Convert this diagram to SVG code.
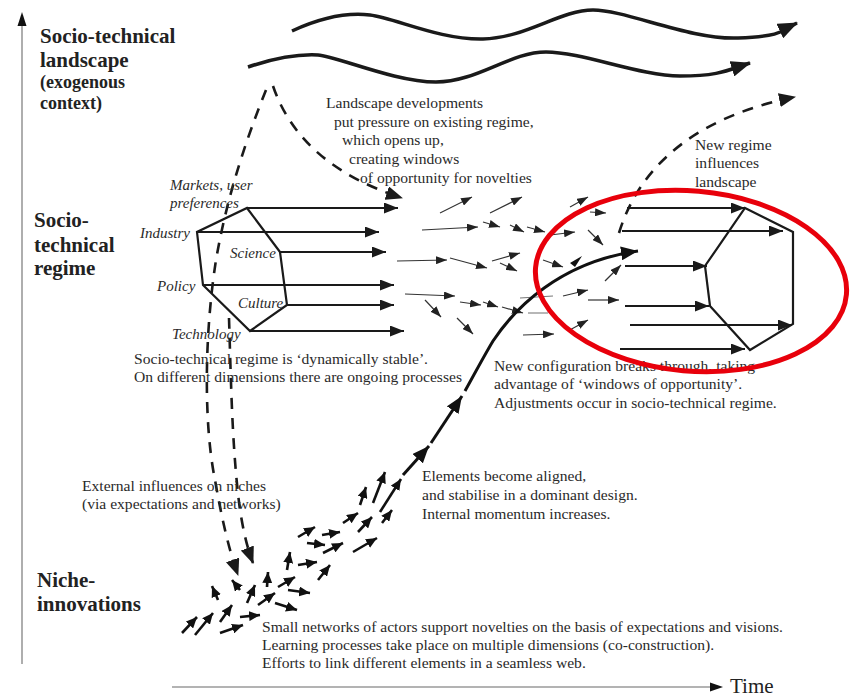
<svg xmlns="http://www.w3.org/2000/svg" width="850" height="699" viewBox="0 0 850 699">
<style>
.lbl{font-family:"Liberation Serif",serif;font-weight:bold;font-size:21px;fill:#222}
.lbs{font-family:"Liberation Serif",serif;font-weight:bold;font-size:18px;fill:#222}
.t{font-family:"Liberation Serif",serif;font-size:15.6px;fill:#2a2a2a}
.it{font-family:"Liberation Serif",serif;font-style:italic;font-size:15px;fill:#2a2a2a}
.wave{fill:none;stroke:#1a1a1a;stroke-width:3.5;marker-end:url(#hw)}
.dash{fill:none;stroke:#1a1a1a;stroke-width:2.6;stroke-dasharray:11 9;marker-end:url(#hd)}
.reg{stroke:#1a1a1a;stroke-width:2;marker-end:url(#hm)}
.sm{stroke:#333;stroke-width:1.2;marker-end:url(#hs)}
.ni{stroke:#111;stroke-width:2.6;marker-end:url(#hn)}
.sc{fill:none;stroke:#111;stroke-width:3;marker-end:url(#hl)}
.hex{fill:none;stroke:#1a1a1a;stroke-width:2.2;stroke-linejoin:miter}
.axis{stroke:#9a9a9a;stroke-width:1.6}
</style>
<defs>
<marker id="hw" markerUnits="userSpaceOnUse" markerWidth="20" markerHeight="16" refX="19" refY="8" orient="auto"><path d="M0,0 L20,8 L0,16 z" fill="#1a1a1a"/></marker>
<marker id="hd" markerUnits="userSpaceOnUse" markerWidth="17" markerHeight="14" refX="16" refY="7" orient="auto"><path d="M0,0 L17,7 L0,14 z" fill="#1a1a1a"/></marker>
<marker id="hm" markerUnits="userSpaceOnUse" markerWidth="14" markerHeight="11" refX="14" refY="5.5" orient="auto"><path d="M0,0 L14,5.5 L0,11 z" fill="#1a1a1a"/></marker>
<marker id="hs" markerUnits="userSpaceOnUse" markerWidth="11" markerHeight="8" refX="11" refY="4" orient="auto"><path d="M0,0 L11,4 L0,8 z" fill="#222"/></marker>
<marker id="hn" markerUnits="userSpaceOnUse" markerWidth="11" markerHeight="10" refX="11" refY="5" orient="auto"><path d="M0,0 L11,5 L0,10 z" fill="#111"/></marker>
<marker id="hl" markerUnits="userSpaceOnUse" markerWidth="17" markerHeight="14" refX="17" refY="7" orient="auto"><path d="M0,0 L17,7 L0,14 z" fill="#111"/></marker>
</defs>
<rect width="850" height="699" fill="#fff"/>

<!-- axes -->
<g id="axes">
<line class="axis" x1="22" y1="664" x2="22" y2="22"/>
<path d="M17.5,26 L22,12 L26.5,26 z" fill="#111"/>
<line class="axis" x1="172" y1="687" x2="712" y2="687"/>
<path d="M710,682.5 L723,687 L710,691.5 z" fill="#111"/>
<text x="730" y="693" font-family="Liberation Serif,serif" font-size="21" fill="#222">Time</text>
</g>

<!-- level labels -->
<g id="label-landscape">
<text class="lbl" x="40" y="43">Socio-technical</text>
<text class="lbl" x="40" y="67">landscape</text>
<text class="lbs" x="40" y="88">(exogenous</text>
<text class="lbs" x="40" y="109">context)</text>
</g>
<g id="label-regime">
<text class="lbl" x="34" y="227">Socio-</text>
<text class="lbl" x="34" y="252">technical</text>
<text class="lbl" x="34" y="275">regime</text>
</g>
<g id="label-niche">
<text class="lbl" x="37" y="587">Niche-</text>
<text class="lbl" x="37" y="611">innovations</text>
</g>

<!-- connectors -->
<g id="connectors">
<!-- landscape waves -->
<path class="wave" d="M292,31 C320,18 345,12 370,15 S440,40 483,39 S560,10 593,10 S690,40 738,38 S782,30 797,23"/>
<path class="wave" d="M248,67 C275,58 300,54 318,55 S395,82 436,82 S510,52 546,52 S640,76 680,76 S728,70 750,63"/>
<!-- dashed -->
<path class="dash" d="M273,86 Q300,165 402,198"/>
<path class="dash" d="M266,90 C250,130 228,190 216,260 C205,330 203,420 215,480 C222,520 229,550 238,575"/>
<path class="dash" d="M229,318 C231,380 232,450 240,510 C244,535 248,550 253,563"/>
<path class="dash" d="M619,233 C635,180 680,120 795,97"/>

<!-- regime arrows -->
<line class="reg" x1="247" y1="208" x2="398" y2="208"/>
<line class="reg" x1="197" y1="232" x2="379" y2="232"/>
<line class="reg" x1="280" y1="252" x2="386" y2="252"/>
<line class="reg" x1="203" y1="285" x2="394" y2="285"/>
<line class="reg" x1="287" y1="305" x2="394" y2="305"/>
<line class="reg" x1="250" y1="331" x2="404" y2="331"/>

<!-- middle field small arrows -->
<line class="sm" x1="440" y1="213" x2="472" y2="197"/>
<line class="sm" x1="490" y1="213" x2="522" y2="197"/>
<line class="sm" x1="422" y1="230" x2="478" y2="227"/>
<line class="sm" x1="483" y1="222" x2="500" y2="227"/>
<line class="sm" x1="510" y1="225" x2="524" y2="232"/>
<line class="sm" x1="527" y1="227" x2="545" y2="232"/>
<line class="sm" x1="550" y1="235" x2="575" y2="232"/>
<line class="sm" x1="570" y1="207" x2="588" y2="197"/>
<line class="sm" x1="590" y1="212" x2="606" y2="213"/>
<line class="sm" x1="588" y1="230" x2="603" y2="245"/>
<line class="sm" x1="397" y1="261" x2="447" y2="260"/>
<line class="sm" x1="450" y1="258" x2="487" y2="268"/>
<line class="sm" x1="492" y1="261" x2="520" y2="253"/>
<line class="sm" x1="500" y1="263" x2="517" y2="271"/>
<line class="sm" x1="543" y1="260" x2="563" y2="267"/>
<line class="sm" x1="605" y1="281" x2="621" y2="265"/>
<line class="sm" x1="405" y1="294" x2="455" y2="296"/>
<line class="sm" x1="460" y1="302" x2="481" y2="305"/>
<line class="sm" x1="483" y1="302" x2="498" y2="307"/>
<line class="sm" x1="502" y1="307" x2="523" y2="313"/>
<line class="sm" x1="425" y1="300" x2="441" y2="317"/>
<line class="sm" x1="457" y1="318" x2="473" y2="334"/>
<line class="sm" x1="523" y1="335" x2="554" y2="334"/>
<line class="sm" x1="563" y1="296" x2="588" y2="290"/>
<line class="sm" x1="588" y1="300" x2="619" y2="300"/>
<line class="sm" x1="568" y1="331" x2="588" y2="320"/>
<line stroke="#777" stroke-width="1.2" x1="520" y1="298" x2="553" y2="296"/>
<line stroke="#888" stroke-width="1.2" x1="528" y1="313" x2="548" y2="313"/>

<!-- new regime arrows -->
<line class="reg" x1="627" y1="208" x2="745" y2="208"/>
<line class="reg" x1="622" y1="231" x2="783" y2="231"/>
<line class="reg" x1="625" y1="266" x2="707" y2="266"/>
<line class="reg" x1="625" y1="306" x2="709" y2="306"/>
<line class="reg" x1="630" y1="325" x2="792" y2="325"/>
<line class="reg" x1="620" y1="349" x2="745" y2="349"/>

<!-- niche arrows -->
<line class="ni" x1="182" y1="633" x2="197" y2="617"/>
<line class="ni" x1="195" y1="635" x2="213" y2="613"/>
<line class="ni" x1="220" y1="622" x2="232" y2="605"/>
<line class="ni" x1="220" y1="633" x2="243" y2="625"/>
<line class="ni" x1="240" y1="617" x2="260" y2="615"/>
<line class="ni" x1="218" y1="600" x2="212" y2="586"/>
<line class="ni" x1="240" y1="590" x2="232" y2="580"/>
<line class="ni" x1="247" y1="603" x2="255" y2="585"/>
<line class="ni" x1="258" y1="605" x2="275" y2="593"/>
<line class="ni" x1="267" y1="587" x2="268" y2="572"/>
<line class="ni" x1="278" y1="587" x2="295" y2="577"/>
<line class="ni" x1="275" y1="603" x2="297" y2="610"/>
<line class="ni" x1="288" y1="590" x2="310" y2="593"/>
<line class="ni" x1="287" y1="570" x2="290" y2="552"/>
<line class="ni" x1="298" y1="565" x2="317" y2="562"/>
<line class="ni" x1="318" y1="580" x2="330" y2="565"/>
<line class="ni" x1="307" y1="543" x2="325" y2="545"/>
<line class="ni" x1="323" y1="553" x2="343" y2="543"/>
<line class="ni" x1="298" y1="537" x2="315" y2="527"/>
<line class="ni" x1="322" y1="535" x2="340" y2="532"/>
<line class="ni" x1="343" y1="523" x2="358" y2="513"/>
<line class="ni" x1="353" y1="552" x2="377" y2="538"/>
<line class="ni" x1="358" y1="532" x2="372" y2="517"/>
<line class="ni" x1="360" y1="505" x2="366" y2="487"/>
<line class="ni" x1="373" y1="503" x2="385" y2="472"/>
<line class="ni" x1="380" y1="512" x2="401" y2="479"/>
<line class="ni" x1="382" y1="523" x2="392" y2="510"/>

<!-- S-curve trajectory -->
<path class="sc" d="M403,475 L429,446"/>
<path class="sc" d="M431,443 L462,396"/>
<path class="sc" d="M465,391 C475,373 484,356 493,341 C515,308 560,262 638,251"/>
<path fill="#111" d="M570,263 L582,256 L575,267 z"/>
</g>

<!-- regime node -->
<g id="regime">
<polygon class="hex" points="247,208 280,252 287,305 250,331 203,285 197,232"/>
<text class="it" x="170" y="190">Markets, user</text>
<text class="it" x="170" y="208">preferences</text>
<text class="it" x="140" y="238">Industry</text>
<text class="it" x="230" y="258">Science</text>
<text class="it" x="157" y="291">Policy</text>
<text class="it" x="238" y="308">Culture</text>
<text class="it" x="172" y="339">Technology</text>
</g>

<!-- new regime node -->
<g id="new-regime">
<polygon class="hex" points="745,208 793,232 793,324 750,350 710,306 705,266"/>
</g>

<!-- texts -->
<g id="text-landscape-dev">
<text class="t" x="326" y="108">Landscape  developments</text>
<text class="t" x="334" y="127">put pressure on existing regime,</text>
<text class="t" x="342" y="145">which opens up,</text>
<text class="t" x="349" y="164">creating windows</text>
<text class="t" x="360" y="183">of opportunity for novelties</text>
</g>
<g id="text-new-regime">
<text class="t" x="695" y="150">New  regime</text>
<text class="t" x="695" y="168">influences</text>
<text class="t" x="695" y="187">landscape</text>
</g>
<g id="text-stable">
<text class="t" x="134" y="364">Socio-technical regime  is ‘dynamically stable’.</text>
<text class="t" x="134" y="382">On different dimensions there are ongoing processes</text>
</g>
<g id="text-breakthrough">
<text class="t" x="494" y="371">New configuration breaks through, taking</text>
<text class="t" x="494" y="389">advantage of ‘windows of opportunity’.</text>
<text class="t" x="494" y="408">Adjustments occur in socio-technical regime.</text>
</g>
<g id="text-external">
<text class="t" x="82" y="491">External influences on niches</text>
<text class="t" x="82" y="509">(via expectations and networks)</text>
</g>
<g id="text-aligned">
<text class="t" x="422" y="481">Elements become aligned,</text>
<text class="t" x="422" y="500">and stabilise in a dominant design.</text>
<text class="t" x="422" y="519">Internal momentum increases.</text>
</g>
<g id="text-niche">
<text class="t" x="262" y="632">Small networks of actors support novelties on the basis of expectations and visions.</text>
<text class="t" x="262" y="650">Learning processes take place on multiple dimensions (co-construction).</text>
<text class="t" x="262" y="668">Efforts to link different elements in a seamless web.</text>
</g>

<!-- red highlight -->
<g id="highlight">
<ellipse cx="691" cy="281" rx="156" ry="90" transform="rotate(5 691 281)" fill="none" stroke="#e8000b" stroke-width="5"/>
</g>
</svg>
